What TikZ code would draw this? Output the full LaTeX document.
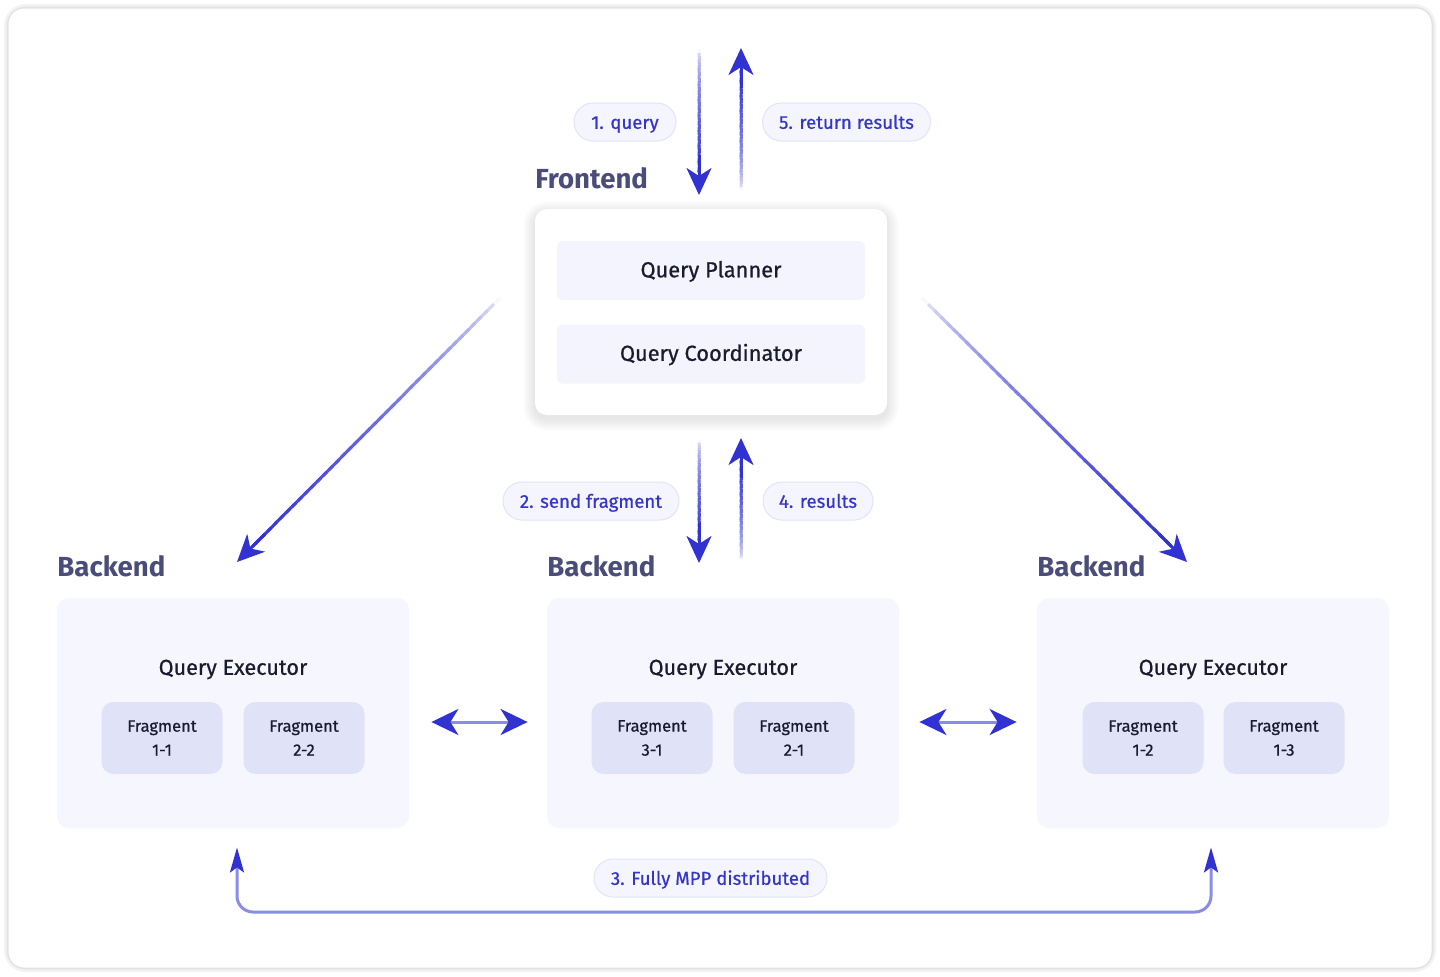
\documentclass[tikz,border=0pt]{standalone}
\usepackage{fontspec}
\setmainfont{Fira Sans}
\newfontfamily\medf{Fira Sans}[FakeBold=0.7]
\usetikzlibrary{arrows.meta,calc}
\definecolor{arrowc}{HTML}{3232D2}
\definecolor{linec}{HTML}{8A8DE6}
\definecolor{pillfill}{HTML}{F4F5FE}
\definecolor{pilldraw}{HTML}{E2E4F8}
\definecolor{pilltext}{HTML}{3535C8}
\definecolor{headc}{HTML}{4A4C7A}
\definecolor{boxfill}{HTML}{F5F6FE}
\definecolor{fragfill}{HTML}{E0E2F7}
\definecolor{innerfill}{HTML}{F3F4FD}
\definecolor{textc}{HTML}{1B1B2E}
\tikzset{
  pill/.style={fill=pillfill, draw=pilldraw, line width=0.5pt, rounded corners=9.5pt, minimum height=19pt, inner sep=0pt, text height=0.95em, text depth=0.27em, text=pilltext, font=\medf\fontsize{9.3}{11}\selectfont},
  panel/.style={fill=boxfill, rounded corners=6pt, minimum width=176pt, minimum height=115pt, inner sep=0pt},
  fragbox/.style={fill=fragfill, rounded corners=6pt, minimum width=60.5pt, minimum height=36pt, inner sep=0pt, align=center, text=textc, font=\medf\fontsize{8.25}{12}\selectfont},
  innerbox/.style={fill=innerfill, rounded corners=3pt, minimum width=154pt, minimum height=29.5pt, inner sep=0pt, text height=0.95em, text depth=0.27em, text=textc, font=\medf\fontsize{10.9}{13}\selectfont},
  titletext/.style={anchor=west, inner sep=0pt, text=headc, font=\bfseries\fontsize{13.8}{16}\selectfont},
  exectext/.style={inner sep=0pt, text=textc, font=\medf\fontsize{10.8}{13}\selectfont},
  bigtip/.style={-{Stealth[length=13.5pt,width=12.5pt,inset=4pt]}},
}
\newcommand{\fadearrow}[2]{%
  \coordinate (gA) at (#1);
  \coordinate (gB) at ($(#2)!11pt!(#1)$);
  \foreach \i in {0,...,39}{
    \pgfmathsetmacro{\s}{\i/40}
    \pgfmathsetmacro{\t}{min(1,(\i+1.6)/40)}
    \pgfmathtruncatemacro{\p}{4+96*sqrt(\i/39)}
    \draw[line width=1.5pt, draw=arrowc!\p!white] ($(gA)!\s!(gB)$) -- ($(gA)!\t!(gB)$);
  }
  \draw[line width=1.5pt, arrowc, bigtip] ($(#2)!20pt!(#1)$) -- (#2);
}
\begin{document}
\begin{tikzpicture}[x=0.5pt, y=-0.5pt]
\useasboundingbox (0,0) rectangle (1440,976);
\fill[white] (0,0) rectangle (1440,976);
% outer frame
\fill[black!5, rounded corners=11pt] (4,4) rectangle (1436,972);
\fill[black!11, rounded corners=9.5pt] (6.5,6.5) rectangle (1433.5,969.5);
\fill[white, rounded corners=8pt] (8.5,8.5) rectangle (1431.5,967.5);

% frontend shadow
\foreach \k in {1,...,12}{
  \fill[black, opacity=0.009, rounded corners=6pt+\k*0.5pt] (535-\k,209-\k+4) rectangle (887+\k,415+\k+4);
}
\node[fill=white, rounded corners=6pt, minimum width=176pt, minimum height=103pt, inner sep=0pt] (fe) at (711,312) {};
\node[innerbox] (qp) at (711,270.5) {Query Planner};
\node[innerbox] (qc) at (711,354) {Query Coordinator};
\node[titletext] (felab) at (535,178) {Frontend};

% backends
\node[panel] (be1) at (233,713) {};
\node[panel] (be2) at (723,713) {};
\node[panel] (be3) at (1213,713) {};
\node[titletext] (bl1) at (57,566) {Backend};
\node[titletext] (bl2) at (547,566) {Backend};
\node[titletext] (bl3) at (1037,566) {Backend};
\node[exectext] (qe1) at (233,669.5) {Query Executor};
\node[exectext] (qe2) at (723,669.5) {Query Executor};
\node[exectext] (qe3) at (1213,669.5) {Query Executor};
\node[fragbox] (f11) at (162,738) {Fragment\\1-1};
\node[fragbox] (f22) at (304,738) {Fragment\\2-2};
\node[fragbox] (f31) at (652,738) {Fragment\\3-1};
\node[fragbox] (f21) at (794,738) {Fragment\\2-1};
\node[fragbox] (f12) at (1143,738) {Fragment\\1-2};
\node[fragbox] (f13) at (1284,738) {Fragment\\1-3};

% coordinates for arrows
\coordinate (qin) at (699,50);
\coordinate (qinT) at (699,195);
\coordinate (rout) at (741,190);
\coordinate (routT) at (741,48);
\coordinate (sf) at (699,440);
\coordinate (sfT) at (699,563);
\coordinate (rs) at (741,560);
\coordinate (rsT) at (741,438);
\coordinate (dl) at (500,298);
\coordinate (dlT) at (237,562);
\coordinate (dr) at (922,298);
\coordinate (drT) at (1187,562);

\fadearrow{qin}{qinT}
\fadearrow{rout}{routT}
\fadearrow{sf}{sfT}
\fadearrow{rs}{rsT}
\fadearrow{dl}{dlT}
\fadearrow{dr}{drT}

% pills
\node[pill, minimum width=51pt] (p1) at (625,122) {1. query};
\node[pill, minimum width=84pt] (p5) at (846.5,122) {5. return results};
\node[pill, minimum width=88pt] (p2) at (591,501) {2. send fragment};
\node[pill, minimum width=55pt] (p4) at (818,501) {4. results};

% horizontal double arrows
\draw[linec, line width=1.5pt, {Stealth[length=13.5pt,width=13pt,inset=4pt,color=arrowc]}-{Stealth[length=13.5pt,width=13pt,inset=4pt,color=arrowc]}]
  ($(be1.east)+(22,9)$) -- ($(be2.west)+(-19,9)$);
\draw[linec, line width=1.5pt, {Stealth[length=13.5pt,width=13pt,inset=4pt,color=arrowc]}-{Stealth[length=13.5pt,width=13pt,inset=4pt,color=arrowc]}]
  ($(be2.east)+(20,9)$) -- ($(be3.west)+(-20,9)$);

% bottom connector
\coordinate (bl) at (237,912);
\coordinate (br) at (1211,912);
\draw[linec, line width=1.5pt, rounded corners=8pt, {Stealth[length=12.5pt,width=7pt,inset=2.5pt,color=arrowc]}-{Stealth[length=12.5pt,width=7pt,inset=2.5pt,color=arrowc]}]
  ($(be1.south)+(4,19)$) -- (bl) -- (br) -- ($(be3.south)+(-2,19)$);
\node[pill, minimum width=116.5pt] (p3) at (710.5,878) {3. Fully MPP distributed};
\end{tikzpicture}
\end{document}
